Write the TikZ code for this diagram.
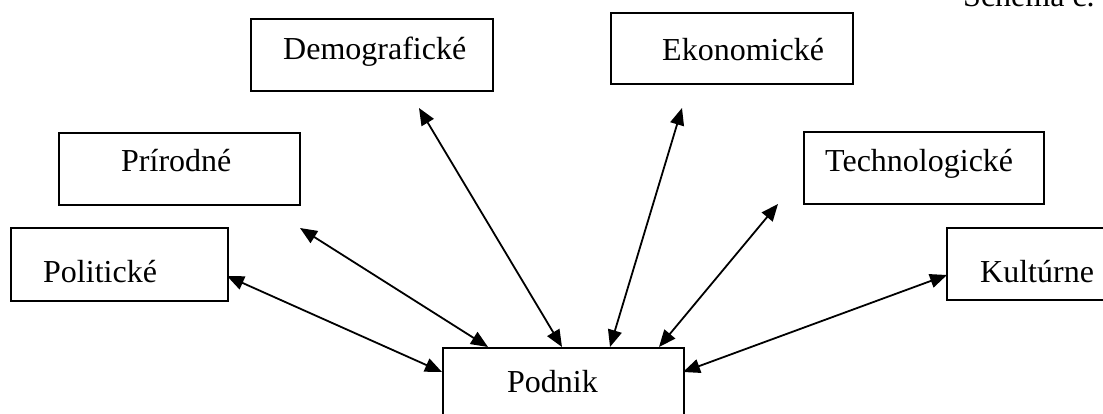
\documentclass[tikz,border=0pt]{standalone}
\usepackage{fontspec}
\setmainfont{Liberation Serif}
\usetikzlibrary{arrows.meta}
\begin{document}
\begin{tikzpicture}[x=1pt,y=-1pt,
  box/.style={draw, line width=2pt, inner sep=0pt, anchor=north west},
  lbl/.style={anchor=base west, inner sep=0pt, font=\fontsize{32}{38}\selectfont},
  link/.style={line width=1.8pt, {Triangle[length=17pt,width=14pt]}-{Triangle[length=17pt,width=14pt]}}]
\useasboundingbox (0,0) rectangle (1103,414);
% boxes
\node[box, minimum width=241pt, minimum height=72pt] (prir) at (58,132) {};
\node[box, minimum width=217pt, minimum height=73pt] (polit) at (10,227) {};
\node[box, minimum width=242pt, minimum height=72pt] (demo) at (250,18) {};
\node[box, minimum width=242pt, minimum height=71pt] (ekon) at (610,12) {};
\node[box, minimum width=240pt, minimum height=72pt] (tech) at (803,131) {};
\node[box, minimum width=242pt, minimum height=72pt] (kult) at (946,227) {};
\node[box, minimum width=241pt, minimum height=72pt] (podnik) at (442,347) {};
% labels
\node[lbl] (tprir) at (121,172) {Prírodné};
\node[lbl] (tpolit) at (43,282) {Politické};
\node[lbl] (tdemo) at (283,60) {Demografické};
\node[lbl] (tekon) at (662,61) {Ekonomické};
\node[lbl] (ttech) at (825,172) {Technologické};
\node[lbl] (tkult) at (980,282) {Kultúrne};
\node[lbl] (tpodnik) at (507,392) {Podnik};
\node[lbl] (tschema) at (963,7) {Schéma č.};
% connector ends
\coordinate (aDemo) at (419,108);
\coordinate (bDemo) at (562,347);
\coordinate (aPrir) at (300,228);
\coordinate (bPrir) at (488,347);
\coordinate (aPolit) at (227,276);
\coordinate (bPolit) at (442,372);
\coordinate (aEkon) at (682,108);
\coordinate (bEkon) at (610,347);
\coordinate (aTech) at (778,204);
\coordinate (bTech) at (659,347);
\coordinate (aKult) at (947,275);
\coordinate (bKult) at (683,372);
% connectors
\draw[link] (aDemo) -- (bDemo);
\draw[link] (aPrir) -- (bPrir);
\draw[link] (aPolit) -- (bPolit);
\draw[link] (aEkon) -- (bEkon);
\draw[link] (aTech) -- (bTech);
\draw[link] (aKult) -- (bKult);
\end{tikzpicture}
\end{document}
